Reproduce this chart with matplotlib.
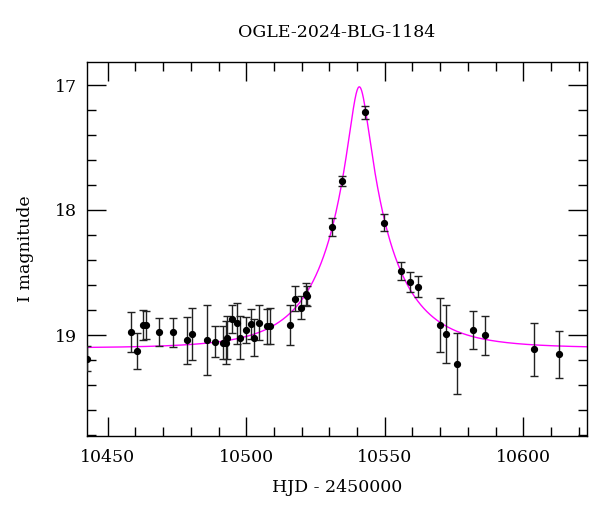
import numpy as np
import matplotlib
matplotlib.use("Agg")
import matplotlib.pyplot as plt
from matplotlib.ticker import MultipleLocator

# Photometry (HJD - 2450000, I mag, error)
hjd = [10442.5, 10458.4, 10460.6, 10462.7, 10463.7, 10468.5, 10473.7, 10478.5,
       10480.5, 10485.8, 10488.7, 10491.6, 10492.7, 10492.9, 10494.8, 10496.7,
       10497.9, 10499.8, 10501.8, 10502.7, 10504.7, 10507.6, 10508.7, 10515.7,
       10517.7, 10519.8, 10521.7, 10521.9, 10530.9, 10534.7, 10542.9, 10549.75,
       10555.9, 10559.0, 10561.9, 10569.9, 10572.0, 10576.0, 10582.0, 10586.0,
       10604.0, 10613.0]
imag = [19.19, 18.978, 19.125, 18.923, 18.923, 18.976, 18.976, 19.043,
        18.99, 19.04, 19.053, 19.06, 19.06, 19.02, 18.87, 18.906,
        19.02, 18.96, 18.91, 19.02, 18.90, 18.93, 18.93, 18.92,
        18.71, 18.78, 18.67, 18.69, 18.133, 17.768, 17.219, 18.10,
        18.485, 18.576, 18.613, 18.917, 18.99, 19.23, 18.963, 19.00,
        19.115, 19.155]
ierr = [0.10, 0.16, 0.144, 0.12, 0.112, 0.115, 0.116, 0.19,
        0.21, 0.28, 0.125, 0.13, 0.17, 0.17, 0.112, 0.165,
        0.175, 0.107, 0.12, 0.15, 0.143, 0.14, 0.144, 0.16,
        0.10, 0.093, 0.088, 0.08, 0.073, 0.043, 0.053, 0.067,
        0.073, 0.083, 0.083, 0.217, 0.233, 0.245, 0.152, 0.156,
        0.213, 0.187]

# Point-lens (Paczynski) model parameters
t0 = 10540.8
tE = 23.5
u0 = 0.147
I_base = 19.105

xlim = (10442.5, 10623.0)
ylim = (19.808, 16.816)

plt.rcParams['font.family'] = ['DejaVu Serif']

fig = plt.figure(figsize=(6.0, 5.12), dpi=100)
ax = fig.add_axes([87/600, 1-436/512, 500/600, 374/512])

tm = np.linspace(xlim[0], xlim[1], 2000)
u = np.sqrt(u0**2 + ((tm - t0) / tE)**2)
A = (u**2 + 2) / (u * np.sqrt(u**2 + 4))
model = I_base - 2.5 * np.log10(A)
ax.plot(tm, model, color='#ff00ff', lw=1.0, zorder=1)

ax.errorbar(hjd, imag, yerr=ierr, fmt='o', color='black', ms=4.2,
            ecolor='#222222', elinewidth=1.0, capsize=3, capthick=1.0, zorder=3)

ax.set_xlim(*xlim)
ax.set_ylim(*ylim)
ax.xaxis.set_major_locator(MultipleLocator(50))
ax.xaxis.set_minor_locator(MultipleLocator(10))
ax.yaxis.set_major_locator(MultipleLocator(1))
ax.yaxis.set_minor_locator(MultipleLocator(0.2))
ax.tick_params(which='both', direction='in', top=True, right=True, width=1.0,
               labelsize=12.5)
ax.tick_params(axis='x', which='major', pad=9)
ax.tick_params(axis='y', which='major', pad=7)
ax.tick_params(which='major', length=13.5)
ax.tick_params(which='minor', length=6.5)
for s in ax.spines.values():
    s.set_linewidth(1.0)

ax.set_xlabel('HJD - 2450000', fontsize=12.5, labelpad=10)
ax.set_ylabel('I magnitude', fontsize=12.5, labelpad=15)
ax.set_title('OGLE-2024-BLG-1184', fontsize=12.5, pad=18)

fig.savefig('out.png', dpi=100)
